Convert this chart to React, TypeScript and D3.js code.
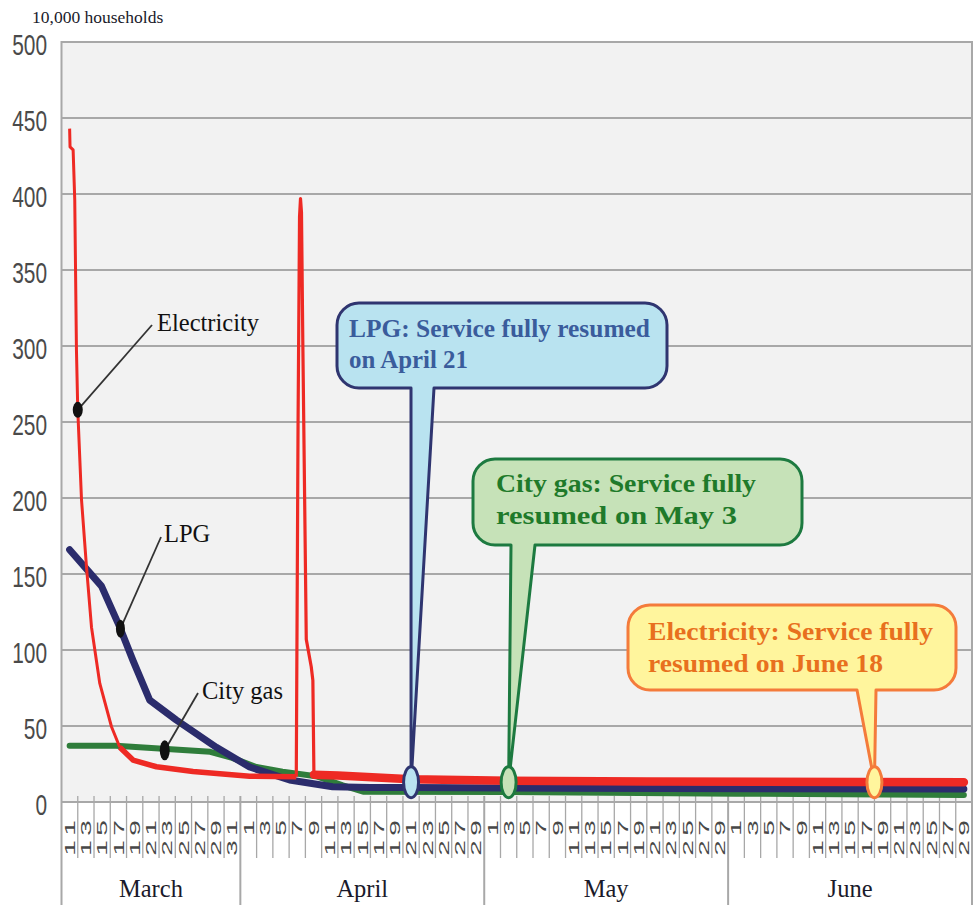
import React from "react";
import * as d3 from "d3";

// ---------- data ----------
const yTickValues = [0, 50, 100, 150, 200, 250, 300, 350, 400, 450, 500];
const monthNames = ["March", "April", "May", "June"];
const monthNums = [3, 4, 5, 6];
const marchDays = ["11", "13", "15", "17", "19", "21", "23", "25", "27", "29", "31"];
const aprilDays = ["1", "3", "5", "7", "9", "11", "13", "15", "17", "19", "21", "23", "25", "27", "29"];
const mayDays = ["1", "3", "5", "7", "9", "11", "13", "15", "17", "19", "21", "23", "25", "27", "29"];
const juneDays = ["1", "3", "5", "7", "9", "11", "13", "15", "17", "19", "21", "23", "25", "27", "29"];
const monthDayLabels = [marchDays, aprilDays, mayDays, juneDays];

// [month, day, value (10,000 households)]
const electricity: [number, number, number][] = [
  [3, 11.0, 443], [3, 11.05, 431], [3, 11.43, 429], [3, 11.63, 396], [3, 11.84, 297],
  [3, 12.0, 258], [3, 12.46, 199], [3, 13.07, 155], [3, 13.69, 115], [3, 14.71, 78],
  [3, 16.15, 49.5], [3, 17.17, 36], [3, 18.8, 27.6], [3, 21.68, 23.2], [3, 26.18, 20],
  [4, 1.14, 17], [4, 6.88, 16.6], [4, 7.1, 250], [4, 7.28, 385], [4, 7.4, 397],
  [4, 7.52, 388], [4, 7.69, 300], [4, 8.11, 107], [4, 8.72, 89], [4, 8.92, 80],
  [4, 9.05, 18], [4, 12, 17.5], [4, 21, 15], [5, 3, 14], [5, 20, 13.5], [6, 29, 13],
];
const lpg: [number, number, number][] = [
  [3, 11, 166], [3, 14.92, 142], [3, 17.17, 115], [3, 18.8, 93], [3, 20.85, 67],
  [3, 24.1, 54], [3, 29.05, 36], [4, 1.14, 23], [4, 6.06, 14.5], [4, 11.35, 10],
  [4, 16, 9.5], [4, 21, 9.5], [5, 10, 9], [6, 29, 8.5],
];
const cityGas: [number, number, number][] = [
  [3, 11, 37], [3, 16.7, 37], [3, 22.5, 35], [3, 28.3, 33], [3, 31, 29],
  [4, 1.97, 23], [4, 5.2, 20], [4, 9.3, 17], [4, 12.6, 11], [4, 15.1, 6.8],
  [5, 3, 6.5], [6, 1, 5.5], [6, 29, 4.6],
];

// series labels: text, anchor dot [month, day, value]
const seriesLabels = ["Electricity", "LPG", "City gas"];
const seriesDots: [number, number, number][] = [[3, 12, 258], [3, 17.25, 114], [3, 22.7, 34]];

// resumption callouts
const calloutLines = [
  ["LPG: Service fully resumed", "on April 21"],
  ["City gas: Service fully", "resumed on May 3"],
  ["Electricity: Service fully", "resumed on June 18"],
];
const calloutDates: [number, number][] = [[4, 21], [5, 3], [6, 18]];
const calloutMarkerValue = 13;

// ---------- helpers ----------
function balloonPath(bx0: number, by0: number, bx1: number, by1: number, r: number,
  tl: number, tr: number, tipX: number, tipY: number) {
  return [
    `M${bx0 + r},${by0}`,
    `H${bx1 - r}`,
    `A${r},${r} 0 0 1 ${bx1},${by0 + r}`,
    `V${by1 - r}`,
    `A${r},${r} 0 0 1 ${bx1 - r},${by1}`,
    `H${tr}`,
    `L${tipX},${tipY}`,
    `L${tl},${by1}`,
    `H${bx0 + r}`,
    `A${r},${r} 0 0 1 ${bx0},${by1 - r}`,
    `V${by0 + r}`,
    `A${r},${r} 0 0 1 ${bx0 + r},${by0}`,
    "Z",
  ].join(" ");
}

export default function App() {
  const W = 978, H = 907;
  const x0 = 61.5, x1 = 972, yTop = 42, yBot = 802;

  const cellStarts: number[] = [];
  let acc = 0;
  monthDayLabels.forEach((a) => { cellStarts.push(acc); acc += a.length; });
  const totalCells = acc;
  const firstDay = monthDayLabels.map((a) => +a[0]);

  const xCell = d3.scaleLinear().domain([0, totalCells]).range([x0, x1]);
  const y = d3.scaleLinear().domain([0, 500]).range([yBot, yTop]);
  const xDate = (m: number, d: number) => {
    const i = monthNums.indexOf(m);
    return xCell(cellStarts[i] + (d - firstDay[i]) / 2 + 0.5);
  };
  const line = d3.line<[number, number, number]>()
    .x((p) => xDate(p[0], p[1]))
    .y((p) => y(p[2]))
    .curve(d3.curveLinear);
  const key = (p: [number, number, number]) => p[0] * 100 + p[1];
  const seg = (data: [number, number, number][], a: number, b: number) =>
    data.filter((p) => key(p) >= a && key(p) <= b);

  const serif = "'Liberation Serif', 'Times New Roman', serif";
  const gridColor = "#a8a8a8";

  const callStyles = [
    { box: [337, 303, 667, 388], tail: [411, 434], fill: "#b9e3f0", stroke: "#2f3570", text: "#3a5c9c", tx: 349, ty: [337, 368], w: [301, 119] },
    { box: [473, 459, 802, 545], tail: [511, 535], fill: "#c6e2b8", stroke: "#1d7a40", text: "#1f7a2a", tx: 496, ty: [492, 524], w: [260, 241] },
    { box: [628, 605, 956, 690], tail: [857, 876], fill: "#fff59d", stroke: "#f47b3b", text: "#e8701e", tx: 648, ty: [640, 672], w: [285, 235] },
  ];
  const labelPos = [
    { tx: 157, ty: 331, lx: 152, ly: 325, rx: 5, ry: 8 },
    { tx: 164, ty: 542, lx: 161, ly: 537, rx: 4.5, ry: 9 },
    { tx: 202, ty: 699, lx: 198, ly: 693, rx: 5, ry: 10 },
  ];

  return (
    <svg width={W} height={H} style={{ position: "absolute", left: 0, top: 0, background: "#fff" }}>
      {/* plot background */}
      <rect x={x0} y={yTop} width={x1 - x0} height={yBot - yTop} fill="#f2f2f2" />
      {/* horizontal grid */}
      {yTickValues.map((v) => (
        <line key={v} x1={x0} x2={x1} y1={y(v)} y2={y(v)} stroke={gridColor} strokeWidth={2} />
      ))}
      {/* y tick labels */}
      {yTickValues.map((v) => (
        <text key={"yl" + v} transform={`translate(47,${y(v) + 3}) scale(0.72,1)`} textAnchor="end"
          dominantBaseline="central" fontFamily="'Liberation Sans', Arial, sans-serif" fontSize={29} fill="#4a4a4a">
          {v}
        </text>
      ))}
      <text x={32} y={23} fontFamily={serif} fontSize={17.5} fill="#1a1a2a">10,000 households</text>

      {/* frame verticals */}
      <line x1={x0} x2={x0} y1={yTop - 1} y2={905} stroke={gridColor} strokeWidth={2} />
      <line x1={x1} x2={x1} y1={yTop - 1} y2={905} stroke={gridColor} strokeWidth={2} />
      {/* cell ticks */}
      {d3.range(1, totalCells).map((k) => (
        <line key={"t" + k} x1={xCell(k)} x2={xCell(k)} y1={796} y2={cellStarts.includes(k) ? 905 : 858}
          stroke={gridColor} strokeWidth={cellStarts.includes(k) ? 2 : 1.3} />
      ))}
      {/* day labels */}
      {monthDayLabels.map((labels, mi) =>
        labels.map((lab, li) => {
          const cx = xCell(cellStarts[mi] + li + 0.5);
          const chars = lab.split("");
          return chars.map((c, ci) => {
            const cy = 828 + (chars.length - 1 - ci) * 20;
            return (
              <text key={`${mi}-${li}-${ci}`} transform={`translate(${cx + 0.5},${cy}) rotate(-90) scale(2.0,1)`}
                textAnchor="middle" dominantBaseline="central" fontFamily="'Liberation Sans', Arial, sans-serif"
                fontSize={14} fill="#484848">
                {c}
              </text>
            );
          });
        })
      )}
      {/* month labels */}
      {monthNames.map((m, i) => {
        const a = xCell(cellStarts[i]);
        const b = xCell(cellStarts[i] + monthDayLabels[i].length);
        return (
          <text key={m} x={(a + b) / 2} y={897} textAnchor="middle" fontFamily={serif} fontSize={24.5} fill="#1a1a2a">
            {m}
          </text>
        );
      })}

      {/* series lines */}
      <path d={line(cityGas) || ""} fill="none" stroke="#2f7d3b" strokeWidth={6} strokeLinejoin="round" strokeLinecap="round" />
      <path d={line(lpg) || ""} fill="none" stroke="#2b2c6c" strokeWidth={7} strokeLinejoin="round" strokeLinecap="round" />
      <path d={line(seg(electricity, 0, 317.2)) || ""} fill="none" stroke="#ee2a24" strokeWidth={3} strokeLinejoin="round" />
      <path d={line(seg(electricity, 317.17, 406.88)) || ""} fill="none" stroke="#ee2a24" strokeWidth={5.5} strokeLinejoin="round" />
      <path d={line(seg(electricity, 406.88, 409.05)) || ""} fill="none" stroke="#ee2a24" strokeWidth={3.2} strokeLinejoin="round" />
      <path d={line(seg(electricity, 409.05, 700)) || ""} fill="none" stroke="#ee2a24" strokeWidth={8.5} strokeLinejoin="round" strokeLinecap="round" />

      {/* series labels */}
      {seriesLabels.map((s, i) => {
        const p = labelPos[i];
        const dx = xDate(seriesDots[i][0], seriesDots[i][1]);
        const dy = y(seriesDots[i][2]);
        return (
          <g key={s}>
            <line x1={p.lx} y1={p.ly} x2={dx} y2={dy} stroke="#333" strokeWidth={1.8} />
            <ellipse cx={dx} cy={dy} rx={p.rx} ry={p.ry} fill="#111" />
            <text x={p.tx} y={p.ty} fontFamily={serif} fontSize={24.5} fill="#111">{s}</text>
          </g>
        );
      })}

      {/* callouts */}
      {calloutLines.map((lines, i) => {
        const st = callStyles[i];
        const tx = xDate(calloutDates[i][0], calloutDates[i][1]);
        const ty = y(calloutMarkerValue);
        const [bx0, by0, bx1, by1] = st.box;
        return (
          <g key={"c" + i}>
            <path d={balloonPath(bx0, by0, bx1, by1, 22, st.tail[0], st.tail[1], tx, ty)}
              fill={st.fill} stroke={st.stroke} strokeWidth={3} strokeLinejoin="round" />
            <ellipse cx={tx} cy={ty} rx={7.5} ry={15.5} fill={st.fill} stroke={st.stroke} strokeWidth={3} />
            {lines.map((t, li) => (
              <text key={li} x={st.tx} y={st.ty[li]} fontFamily={serif} fontWeight="bold" fontSize={26}
                fill={st.text} textLength={st.w[li]} lengthAdjust="spacingAndGlyphs">
                {t}
              </text>
            ))}
          </g>
        );
      })}
    </svg>
  );
}
